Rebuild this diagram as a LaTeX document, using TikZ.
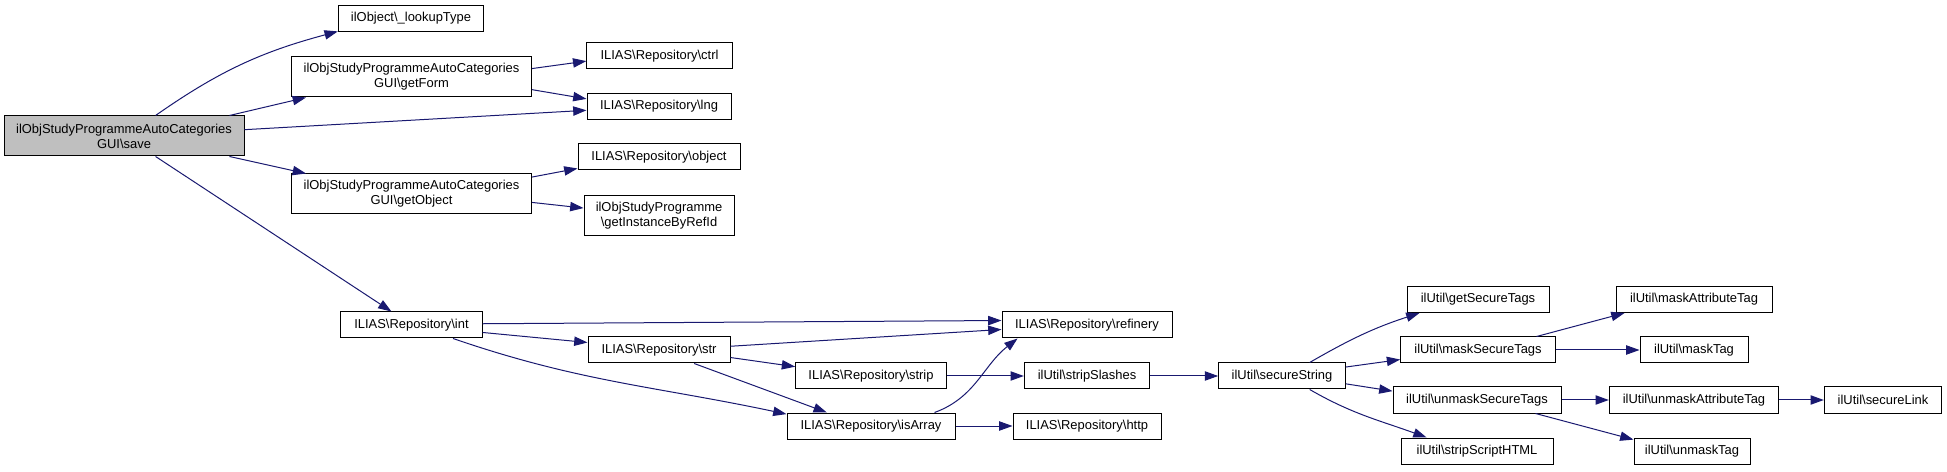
\documentclass[tikz,border=0pt]{standalone}
\usepackage{fontspec}
\setmainfont{Liberation Sans}
\usetikzlibrary{arrows.meta}
\definecolor{edgeblue}{HTML}{191970}
\definecolor{savegray}{HTML}{BFBFBF}
\begin{document}
\begin{tikzpicture}[x=0.75pt,y=0.75pt,
    fn/.style={draw=black,line width=0.75pt,inner sep=0pt,minimum height=19.5pt,align=center,font=\fontsize{9.7}{11.25}\selectfont},
    fntwo/.style={fn,minimum height=30pt},
    call/.style={draw=edgeblue,line width=0.75pt,-{Triangle[length=10pt,width=7pt]}}]
                \useasboundingbox (0,0) rectangle (1947,471);
                % left part
                \node[fntwo,fill=savegray,minimum width=180pt] (save) at (124,335) {ilObjStudyProgrammeAutoCategories\\GUI\textbackslash save};
                \node[fn,minimum width=109pt] (lookup) at (411,452.5) {ilObject\textbackslash\_lookupType};
                \node[fntwo,minimum width=180pt] (form) at (411.5,394) {ilObjStudyProgrammeAutoCategories\\GUI\textbackslash getForm};
                \node[fntwo,minimum width=180pt] (getobj) at (411.5,277) {ilObjStudyProgrammeAutoCategories\\GUI\textbackslash getObject};
                \node[fn,minimum width=109pt] (ctrl) at (659.5,415) {ILIAS\textbackslash Repository\textbackslash ctrl};
                \node[fn,minimum width=108pt] (lng) at (659,364.5) {ILIAS\textbackslash Repository\textbackslash lng};
                \node[fn,minimum width=121.5pt] (repobj) at (659,314) {ILIAS\textbackslash Repository\textbackslash object};
                \node[fntwo,minimum width=112.5pt] (inst) at (659,255) {ilObjStudyProgramme\\\textbackslash getInstanceByRefId};
                % middle part
                \node[fn,minimum width=106pt] (int) at (411.5,146) {ILIAS\textbackslash Repository\textbackslash int};
                \node[fn,minimum width=106.5pt] (str) at (659,121) {ILIAS\textbackslash Repository\textbackslash str};
                \node[fn,minimum width=113pt] (strip) at (871,95) {ILIAS\textbackslash Repository\textbackslash strip};
                \node[fn,minimum width=126pt] (isarray) at (871,45) {ILIAS\textbackslash Repository\textbackslash isArray};
                \node[fn,minimum width=127.5pt] (refinery) at (1087,146) {ILIAS\textbackslash Repository\textbackslash refinery};
                \node[fn,minimum width=94pt] (slashes) at (1087,95) {ilUtil\textbackslash stripSlashes};
                \node[fn,minimum width=111pt] (http) at (1087,45) {ILIAS\textbackslash Repository\textbackslash http};
                % right part
                \node[fn,minimum width=95pt] (secure) at (1282,95) {ilUtil\textbackslash secureString};
                \node[fn,minimum width=106.5pt] (gettags) at (1478,171.5) {ilUtil\textbackslash getSecureTags};
                \node[fn,minimum width=116pt] (masktags) at (1478,121) {ilUtil\textbackslash maskSecureTags};
                \node[fn,minimum width=126pt] (unmasktags) at (1477,71) {ilUtil\textbackslash unmaskSecureTags};
                \node[fn,minimum width=114pt] (striphtml) at (1477,20) {ilUtil\textbackslash stripScriptHTML};
                \node[fn,minimum width=117pt] (maskattr) at (1694,171.5) {ilUtil\textbackslash maskAttributeTag};
                \node[fn,minimum width=81pt] (masktag) at (1694,121) {ilUtil\textbackslash maskTag};
                \node[fn,minimum width=127pt] (unmaskattr) at (1694,71) {ilUtil\textbackslash unmaskAttributeTag};
                \node[fn,minimum width=87pt] (unmasktag) at (1692,20) {ilUtil\textbackslash unmaskTag};
                \node[fn,minimum width=88pt] (link) at (1883,71) {ilUtil\textbackslash secureLink};
                % calls
                \draw[call] (save.33) to[out=35,in=195] (lookup.190);
                \draw[call] (save.11.5) -- (form.191);
                \draw[call] (save.3.3) -- (lng.183);
                \draw[call] (save.-11.5) -- (getobj.169);
                \draw[call] (save.-33) -- (int.146);
                \draw[call] (form.4.8) -- (ctrl.184.7);
                \draw[call] (form.-6.7) -- (lng.174);
                \draw[call] (getobj.8.6) -- (repobj.188.4);
                \draw[call] (getobj.-4.8) -- (inst.174.7);
                \draw[call] (int.1.6) -- (refinery.177.3);
                \draw[call] (int.-6.5) -- (str.174.4);
                \draw[call] (int.-18.7) to[out=-19,in=168] (isarray.172.5);
                \draw[call] (str.3.3) -- (refinery.183.4);
                \draw[call] (str.-6.5) -- (strip.173);
                \draw[call] (str.-21.8) -- (isarray.163);
                \draw[call] (isarray.12.8) to[out=20,in=218] (refinery.191);
                \draw[call] (isarray) -- (http);
                \draw[call] (strip) -- (slashes);
                \draw[call] (slashes) -- (secure);
                \draw[call] (secure.26.6) to[out=30,in=198] (gettags.193);
                \draw[call] (secure.8) -- (masktags.187.3);
                \draw[call] (secure.-7) -- (unmasktags.174);
                \draw[call] (secure.-26.6) to[out=-30,in=160] (striphtml.165);
                \draw[call] (masktags.13) -- (maskattr.191.4);
                \draw[call] (masktags) -- (masktag);
                \draw[call] (unmasktags) -- (unmaskattr);
                \draw[call] (unmasktags.-13.3) -- (unmasktag.169);
                \draw[call] (unmaskattr) -- (link);
            \end{tikzpicture}
\end{document}
